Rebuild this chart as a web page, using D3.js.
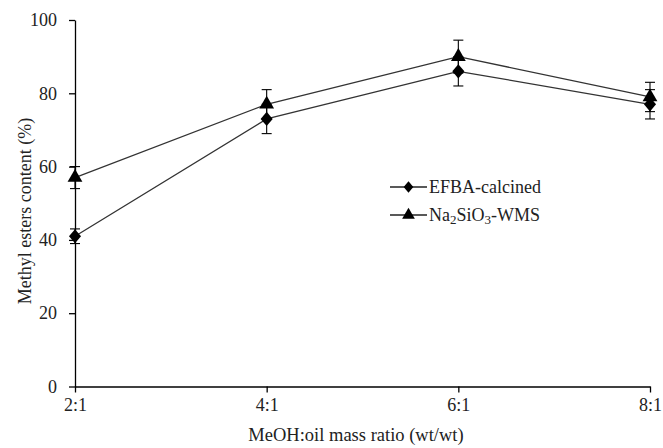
<!DOCTYPE html>
<html lang="en">
  <head>
    <meta charset="UTF-8" />
    <title>Methyl esters content vs MeOH:oil ratio</title>
    <script src="https://d3js.org/d3.v7.min.js"></script>
    <style>
      body { margin: 0; background: #fff; }
      text { font-family: "Liberation Serif", "Times New Roman", serif; fill: #222; }
      .axis path, .axis line { stroke: #000; stroke-width: 1.3; }
      .axis text { font-size: 18px; font-family: "Liberation Serif", serif; fill: #222; }
      .series { fill: none; stroke: #333; stroke-width: 1.3; }
      .err { stroke: #000; stroke-width: 1.1; }
    </style>
  </head>
  <body>
    <svg width="663" height="448"></svg>
    <script>
      const width = 663;
      const height = 448;
      const margin = { top: 20, right: 13, bottom: 62, left: 75 };

      // data
      const categories = ["2:1", "4:1", "6:1", "8:1"];
      const efbaValues = [41, 73, 86, 77];
      const efbaErrors = [2, 4, 4, 4];
      const naValues = [57, 77, 90, 79];
      const naErrors = [3, 4, 4.5, 4];
      const yTicks = [0, 20, 40, 60, 80, 100];

      // rhombus marker (wider than d3's default diamond)
      const rhombus = {
        draw(ctx, size) {
          const h = Math.sqrt(size) * 0.6;
          const w = h * 0.85;
          ctx.moveTo(0, -h);
          ctx.lineTo(w, 0);
          ctx.lineTo(0, h);
          ctx.lineTo(-w, 0);
          ctx.closePath();
        },
      };

      const series = [
        { name: "EFBA-calcined", values: efbaValues, errors: efbaErrors, symbol: rhombus, size: 140, legendSize: 90 },
        { name: "Na2SiO3-WMS", values: naValues, errors: naErrors, symbol: d3.symbolTriangle, size: 95, legendSize: 70 },
      ];

      const svg = d3.select("svg");

      const x = d3
        .scalePoint()
        .domain(categories)
        .range([margin.left, width - margin.right]);

      const y = d3
        .scaleLinear()
        .domain([0, 100])
        .range([height - margin.bottom + 0.5, margin.top]);

      // axes
      svg
        .append("g")
        .attr("class", "axis")
        .attr("transform", `translate(0,${y(0)})`)
        .call(d3.axisBottom(x).tickSize(6).tickPadding(5).tickSizeOuter(0))
        .call((g) => g.selectAll("text").attr("dy", "0.75em"));

      svg
        .append("g")
        .attr("class", "axis")
        .attr("transform", `translate(${margin.left},0)`)
        .call(d3.axisLeft(y).tickValues(yTicks).tickSize(6).tickPadding(12).tickSizeOuter(0));

      // axis titles
      svg
        .append("text")
        .attr("x", 356)
        .attr("y", 441)
        .attr("text-anchor", "middle")
        .attr("font-size", 18.5)
        .text("MeOH:oil mass ratio (wt/wt)");

      svg
        .append("text")
        .attr("transform", `translate(25,211) rotate(-90)`)
        .attr("text-anchor", "middle")
        .attr("dy", "0.35em")
        .attr("font-size", 18)
        .text("Methyl esters content (%)");

      const line = d3
        .line()
        .x((d, i) => x(categories[i]))
        .y((d) => y(d));

      series.forEach((s) => {
        svg.append("path").attr("class", "series").attr("d", line(s.values));

        // error bars
        const eb = svg.append("g");
        s.values.forEach((v, i) => {
          const cx = x(categories[i]);
          const hi = y(v + s.errors[i]);
          const lo = y(v - s.errors[i]);
          eb.append("line").attr("class", "err").attr("x1", cx).attr("x2", cx).attr("y1", hi).attr("y2", lo);
          eb.append("line").attr("class", "err").attr("x1", cx - 5).attr("x2", cx + 5).attr("y1", hi).attr("y2", hi);
          eb.append("line").attr("class", "err").attr("x1", cx - 5).attr("x2", cx + 5).attr("y1", lo).attr("y2", lo);
        });

        svg
          .append("g")
          .selectAll("path")
          .data(s.values)
          .join("path")
          .attr("d", d3.symbol().type(s.symbol).size(s.size))
          .attr("transform", (d, i) => `translate(${x(categories[i])},${y(d)})`)
          .attr("fill", "#000");
      });

      // legend
      const legend = svg.append("g").attr("transform", "translate(390,187)");
      series.forEach((s, i) => {
        const g = legend.append("g").attr("transform", `translate(0,${i * 28})`);
        g.append("line").attr("x1", 0).attr("x2", 37).attr("stroke", "#222").attr("stroke-width", 1.3);
        g.append("path")
          .attr("d", d3.symbol().type(s.symbol).size(s.legendSize))
          .attr("transform", "translate(18.5,0)")
          .attr("fill", "#000");
        const t = g.append("text").attr("x", 39).attr("dy", "0.35em").attr("font-size", 18);
        if (i === 0) {
          t.text(s.name);
        } else {
          t.append("tspan").text("Na");
          t.append("tspan").attr("font-size", 13).attr("dy", 3).text("2");
          t.append("tspan").attr("dy", -3).text("SiO");
          t.append("tspan").attr("font-size", 13).attr("dy", 3).text("3");
          t.append("tspan").attr("dy", -3).text("-WMS");
        }
      });
    </script>
  </body>
</html>
